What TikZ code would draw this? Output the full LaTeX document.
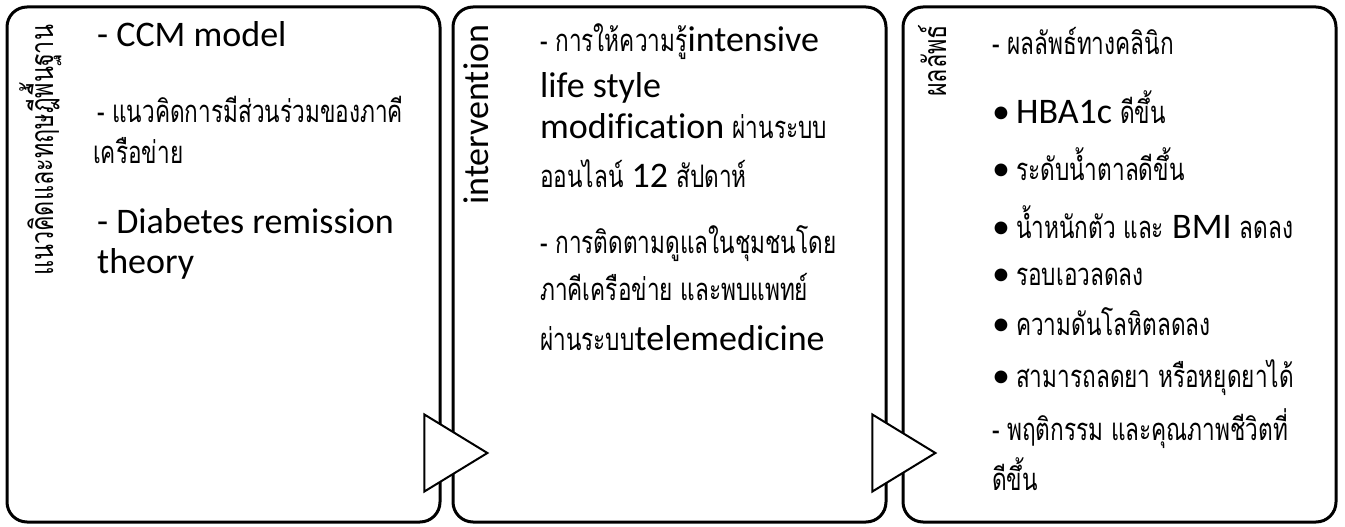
\documentclass[tikz,border=0pt]{standalone}
\usepackage{fontspec}
\setmainfont{Carlito}[Ligatures=CommonOff]
\newfontfamily\thaifont[Script=Thai, FakeStretch=0.73]{Loma}
\usetikzlibrary{shapes.geometric}
\newcommand{\tha}[1]{{\thaifont\fontsize{31}{36}\selectfont #1}}
\newcommand{\thv}[1]{{\thaifont\fontsize{32}{38}\selectfont #1}}

\begin{document}
\begin{tikzpicture}[
    x=1pt, y=-1pt,
    panel/.style={draw, line width=3pt, rounded corners=20pt, minimum width=433pt,
                  minimum height=515pt, inner sep=0pt},
    txt/.style={anchor=base west, inner sep=0pt, font=\fontsize{36}{40}\selectfont},
    side/.style={rotate=90, anchor=base west, inner sep=0pt, font=\fontsize{36}{40}\selectfont},
    flow/.style={isosceles triangle, isosceles triangle stretches, draw, fill=white,
                 line width=2pt, minimum width=77pt, minimum height=63pt, inner sep=0pt,
                 anchor=apex},
]
\useasboundingbox (0,0) rectangle (1345,527);

% three panels
\node[panel] (base) at (223.5,264.5) {};
\node[panel] (act)  at (669.5,264.5) {};
\node[panel] (res)  at (1119.5,264.5) {};

% side headings
\node[side] (baseh) at (53,276) {\thv{แนวคิดและทฤษฎีพื้นฐาน}};
\node[side] (acth)  at (488,205) {intervention};
\node[side] (resh)  at (946,97)  {\thv{ผลลัพธ์}};

% theory panel
\node[txt] (ccm)  at (97,47)  {- CCM model};
\node[txt] (net1) at (97,122) {\tha{- แนวคิดการมีส่วนร่วมของภาคี}};
\node[txt] (net2) at (93,163) {\tha{เครือข่าย}};
\node[txt] (drt1) at (97,233) {- Diabetes remission};
\node[txt] (drt2) at (97,273) {theory};

% intervention panel
\node[txt] (edu1) at (540,52)  {\tha{- การให้ความรู้}intensive};
\node[txt] (edu2) at (540,97)  {life style};
\node[txt] (edu3) at (540,139) {modification \tha{ผ่านระบบ}};
\node[txt] (edu4) at (540,187) {\tha{ออนไลน์} 12 \tha{สัปดาห์}};
\node[txt] (fol1) at (540,253) {\tha{- การติดตามดูแลในชุมชนโดย}};
\node[txt] (fol2) at (540,300) {\tha{ภาคีเครือข่าย และพบแพทย์}};
\node[txt] (fol3) at (540,350) {\tha{ผ่านระบบ}telemedicine};

% outcome panel
\node[txt] (clin) at (992,55) {\tha{- ผลลัพธ์ทางคลินิก}};
\foreach \y/\t [count=\i] in {
    123/{HBA1c \tha{ดีขึ้น}},
    180/{\tha{ระดับน้ำตาลดีขึ้น}},
    238/{\tha{น้ำหนักตัว และ} BMI \tha{ลดลง}},
    285/{\tha{รอบเอวลดลง}},
    335/{\tha{ความดันโลหิตลดลง}},
    387/{\tha{สามารถลดยา หรือหยุดยาได้}}} {
  \node[txt] (item\i) at (992,\y) {•\,\t};
}
\node[txt] (qol1) at (992,440) {\tha{- พฤติกรรม และคุณภาพชีวิตที่}};
\node[txt] (qol2) at (992,490) {\tha{ดีขึ้น}};

% flow arrows between panels
\node[flow] (go1) at (490,453) {};
\node[flow] (go2) at (938,453) {};

\end{tikzpicture}
\end{document}
